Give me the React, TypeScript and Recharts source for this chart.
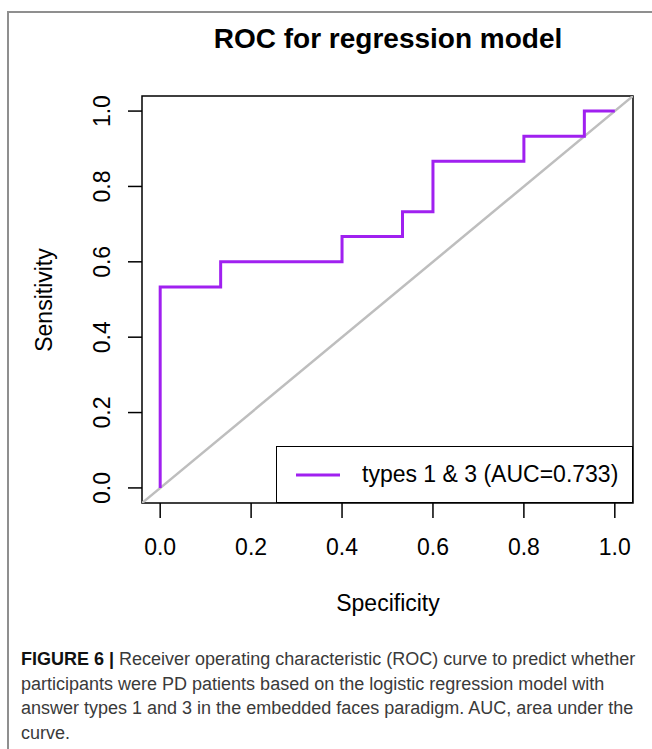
import React from 'react';
import { LineChart, Line, XAxis, YAxis, Legend, ReferenceArea } from 'recharts';

// ROC corner points (specificity on x, sensitivity on y)
const specificity = [0, 0, 0.133, 0.133, 0.4, 0.4, 0.533, 0.533, 0.6, 0.6, 0.8, 0.8, 0.933, 0.933, 1];
const sensitivity = [0, 0.533, 0.533, 0.6, 0.6, 0.667, 0.667, 0.733, 0.733, 0.867, 0.867, 0.933, 0.933, 1, 1];
// chance line, corner to corner of the plot region
const diagonalX = [-0.04, 1.04];
const diagonalY = [-0.04, 1.04];
const axisTicks = [0, 0.2, 0.4, 0.6, 0.8, 1];
const axisDomain = [-0.04, 1.04];
const seriesName = 'types 1 & 3 (AUC=0.733)';
const title = 'ROC for regression model';
const captionBold = 'FIGURE 6 |';
const captionLines = [
  ' Receiver operating characteristic (ROC) curve to predict whether',
  'participants were PD patients based on the logistic regression model with',
  'answer types 1 and 3 in the embedded faces paradigm. AUC, area under the',
  'curve.',
];

const FONT = '"Liberation Sans", Arial, Helvetica, sans-serif';
const PURPLE = '#A020F0';

const rocData = specificity.map((x, i) => ({ x, y: sensitivity[i] }));
const diagData = diagonalX.map((x, i) => ({ x, y: diagonalY[i] }));

function XTick({ x, y, payload }: any) {
  return (
    <text x={x} y={y + 37} textAnchor="middle" fontSize={23} fontFamily={FONT} fill="#000">
      {Number(payload.value).toFixed(1)}
    </text>
  );
}

function YTick({ x, y, payload }: any) {
  const bx = x - 18;
  return (
    <text x={bx} y={y} transform={`rotate(-90 ${bx} ${y})`} textAnchor="middle" fontSize={23} fontFamily={FONT} fill="#000">
      {Number(payload.value).toFixed(1)}
    </text>
  );
}

function LegendBox({ payload }: any) {
  const items = (payload || []).filter((p: any) => p.value === seriesName);
  return (
    <div style={{ width: 357, height: 57, boxSizing: 'border-box', border: '1.5px solid #000', background: '#fff', display: 'flex', alignItems: 'center' }}>
      {items.map((p: any) => (
        <div key={p.value} style={{ display: 'flex', alignItems: 'center' }}>
          <svg width={85} height={10} style={{ display: 'block' }}>
            <line x1={19} x2={63} y1={5} y2={5} stroke={p.color} strokeWidth={3} />
          </svg>
          <span style={{ fontFamily: FONT, fontSize: 23, color: '#000', whiteSpace: 'nowrap' }}>{p.value}</span>
        </div>
      ))}
    </div>
  );
}

export default function App() {
  return (
    <div style={{ position: 'absolute', left: 0, top: 0, width: 652, height: 749, background: '#fff', overflow: 'hidden' }}>
      <div style={{ position: 'absolute', left: 7, top: 11, width: 645, height: 738, boxSizing: 'border-box', borderLeft: '2px solid #8f8f8f', borderTop: '2px solid #8f8f8f' }} />
      <div style={{ position: 'absolute', left: 0, top: 0 }}>
        <LineChart width={652} height={625} margin={{ top: 96, right: 19, left: 0, bottom: 0 }}>
          <XAxis
            type="number"
            dataKey="x"
            domain={axisDomain}
            ticks={axisTicks}
            allowDataOverflow
            height={122}
            axisLine={false}
            tickLine={{ stroke: '#000', strokeWidth: 1.5 }}
            tickSize={15}
            tickMargin={0}
            tick={<XTick />}
            interval={0}
          />
          <YAxis
            type="number"
            dataKey="y"
            domain={axisDomain}
            ticks={axisTicks}
            allowDataOverflow
            width={142}
            axisLine={false}
            tickLine={{ stroke: '#000', strokeWidth: 1.5 }}
            tickSize={14}
            tickMargin={0}
            tick={<YTick />}
            interval={0}
          />
          <ReferenceArea x1={-0.04} x2={1.04} y1={-0.04} y2={1.04} fill="none" stroke="#000" strokeWidth={1.5} fillOpacity={0} ifOverflow="visible" />
          <Line data={diagData} dataKey="y" name="chance" stroke="#BEBEBE" strokeWidth={2.5} dot={false} activeDot={false} legendType="none" isAnimationActive={false} />
          <Line data={rocData} dataKey="y" name={seriesName} stroke={PURPLE} strokeWidth={3} dot={false} activeDot={false} isAnimationActive={false} />
          <Legend
            layout="horizontal"
            verticalAlign="middle"
            align="center"
            content={<LegendBox />}
            wrapperStyle={{ position: 'absolute', left: 276, top: 446, width: 357, height: 57 }}
          />
        </LineChart>
      </div>
      <svg width={652} height={640} style={{ position: 'absolute', left: 0, top: 0, pointerEvents: 'none' }}>
        <text x={388} y={48} textAnchor="middle" fontSize={28} fontWeight="bold" fontFamily={FONT} fill="#000">{title}</text>
        <text x={388} y={611} textAnchor="middle" fontSize={23} fontFamily={FONT} fill="#000">Specificity</text>
        <text x={52} y={300} transform="rotate(-90 52 300)" textAnchor="middle" fontSize={23} fontFamily={FONT} fill="#000">Sensitivity</text>
      </svg>
      <div style={{ position: 'absolute', left: 21, top: 647, fontFamily: FONT, fontSize: 18, lineHeight: '24.7px', color: '#3a3a3a' }}>
        {captionLines.map((line, i) => (
          <div key={i} style={{ whiteSpace: 'nowrap' }}>
            {i === 0 && <b style={{ color: '#111' }}>{captionBold}</b>}
            {line}
          </div>
        ))}
      </div>
    </div>
  );
}
